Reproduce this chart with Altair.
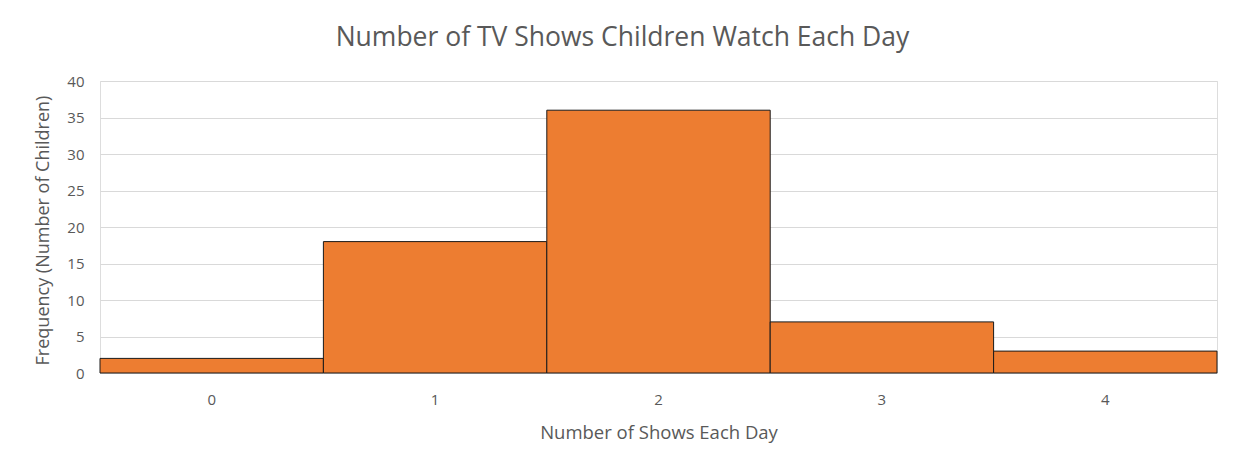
import altair as alt
import pandas as pd

shows = ["0", "1", "2", "3", "4"]
children = [2, 18, 36, 7, 3]

df = pd.DataFrame({"shows": shows, "children": children})

FONT = "Open Sans"
GRAY = "#595959"

chart = (
    alt.Chart(df)
    .mark_bar(color="#ED7D31", stroke="#1a1a1a", strokeWidth=1)
    .encode(
        x=alt.X(
            "shows:N",
            sort=shows,
            scale=alt.Scale(paddingInner=0, paddingOuter=0),
            axis=alt.Axis(
                title="Number of Shows Each Day",
                labelAngle=0,
                ticks=False,
                tickSize=0,
                grid=False,
                domain=True,
                domainColor="#D9D9D9",
                labelPadding=19,
                labelFont=FONT,
                labelFontSize=15,
                labelColor=GRAY,
                labelBaseline="top",
                titleFont=FONT,
                titleFontSize=18.5,
                titleFontWeight="normal",
                titleColor=GRAY,
                titleY=59,
                titleBaseline="middle",
            ),
        ),
        y=alt.Y(
            "children:Q",
            scale=alt.Scale(domain=[0, 40], nice=False),
            axis=alt.Axis(
                title="Frequency (Number of Children)",
                values=[0, 5, 10, 15, 20, 25, 30, 35, 40],
                domain=False,
                ticks=False,
                tickSize=0,
                grid=True,
                gridColor="#D9D9D9",
                gridWidth=1,
                labelPadding=16,
                labelFont=FONT,
                labelFontSize=15,
                labelColor=GRAY,
                titleFont=FONT,
                titleFontSize=18,
                titleFontWeight="normal",
                titleColor=GRAY,
                titleX=-57,
                titleY=149,
                titleBaseline="middle",
            ),
        ),
    )
    .properties(
        width=1117,
        height=292,
        autosize=alt.AutoSizeParams(type="none"),
        padding={"left": 92, "top": 73, "right": 8, "bottom": 82},
        title=alt.TitleParams(
            "Number of TV Shows Children Watch Each Day",
            font=FONT,
            fontSize=26.5,
            fontWeight="normal",
            color=GRAY,
            anchor="middle",
            frame="group",
            dx=-36,
            offset=23,
        ),
    )
    .configure_view(stroke="transparent", strokeWidth=0, strokeOpacity=0)
    .configure(background="white")
)

chart.save("out.html", embed_options={"renderer": "svg", "actions": False})
